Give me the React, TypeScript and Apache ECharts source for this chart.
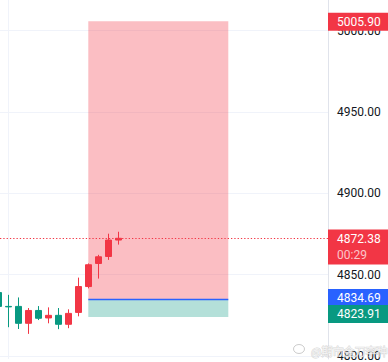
import React, { useEffect, useRef } from "react";
import * as echarts from "echarts";

// ---- data ----
const candleX = [0, 1, 2, 3, 4, 5, 6, 7, 8, 9, 10, 11, 12];
const opens = [4839.0, 4830.5, 4830.5, 4820.1, 4828.0, 4823.4, 4825.0, 4819.5, 4826.8, 4842.7, 4856.9, 4861.2, 4871.3];
const closes = [4830.5, 4830.2, 4820.1, 4828.0, 4823.2, 4825.0, 4819.5, 4826.2, 4842.7, 4856.1, 4861.0, 4871.3, 4872.38];
const lows = [4828.0, 4817.7, 4816.6, 4813.6, 4822.1, 4820.1, 4816.5, 4817.1, 4824.4, 4841.6, 4847.6, 4859.1, 4868.5];
const highs = [4841.0, 4837.6, 4836.0, 4829.5, 4830.7, 4829.9, 4829.5, 4828.7, 4848.2, 4856.9, 4862.2, 4875.2, 4876.4];

const yTicks = [4800, 4850, 4900, 4950, 5000];
const xGridLines = [1];

const lastPrice = 4872.38;
const countdown = "00:29";
const targetPrice = 5005.9;
const entryPrice = 4834.69;
const stopPrice = 4823.91;
const positionStart = 9;
const positionEnd = 23;

const yMin = 4798.2;
const yMax = 5018.9;
const xMin = 0.17;
const xMax = 32.97;

const watermark = "@期市金刀李种";

// ---- styles ----
const UP = "#f23645";
const DOWN = "#089981";
const BLUE = "#2962ff";
const FONT = 'Roboto, "Noto Sans", sans-serif';

function priceTag(value: number, color: string, offsetY: number) {
  return {
    yAxis: value,
    lineStyle: { color: "rgba(0,0,0,0)", width: 0, type: "solid" },
    label: {
      show: true,
      position: "end",
      distance: 0,
      formatter: value.toFixed(2),
      color: "#fff",
      backgroundColor: color,
      fontFamily: FONT,
      fontSize: 12,
      lineHeight: 14,
      padding: [2, 8, 2, 9],
      offset: [0, offsetY],
    },
  };
}

export default function App() {
  const ref = useRef<HTMLDivElement>(null);

  useEffect(() => {
    if (!ref.current) return;
    const chart = echarts.init(ref.current, undefined, { renderer: "svg" });

    const candleData = candleX.map((x, i) => [x, opens[i], closes[i], lows[i], highs[i]]);

    chart.setOption({
      animation: false,
      backgroundColor: "#ffffff",
      grid: { left: 0, right: 60, top: 0, bottom: 0, containLabel: false },
      xAxis: {
        type: "value",
        min: xMin,
        max: xMax,
        show: false,
        splitLine: { show: false },
      },
      yAxis: {
        type: "value",
        position: "right",
        min: yMin,
        max: yMax,
        minInterval: 50,
        maxInterval: 50,
        axisLine: { show: true, lineStyle: { color: "#e0e3eb", width: 1 } },
        axisTick: { show: false },
        splitLine: { show: false },
        axisLabel: {
          color: "#131722",
          fontFamily: FONT,
          fontSize: 12,
          margin: 9,
          formatter: (v: number) => (Math.abs(v % 50) < 1e-6 ? v.toFixed(2) : ""),
        },
      },
      graphic: [
        {
          type: "ellipse",
          shape: { cx: 299, cy: 349, rx: 5.5, ry: 4.5 },
          style: { fill: "rgba(255,255,255,0.6)", stroke: "rgba(170,170,170,0.6)", lineWidth: 1 },
          z: 100,
        },
        {
          type: "text",
          x: 311,
          y: 351,
          style: {
            text: watermark,
            fill: "rgba(255,255,255,0.75)",
            stroke: "rgba(180,180,180,0.55)",
            lineWidth: 1,
            font: '11px "Noto Sans CJK SC", sans-serif',
            verticalAlign: "middle",
          },
          z: 100,
        },
      ],
      series: [
        {
          type: "line",
          data: [],
          z: 0,
          silent: true,
          markLine: {
            z: 0,
            silent: true,
            symbol: ["none", "none"],
            label: { show: false },
            lineStyle: { color: "#f0f3fa", width: 1, type: "solid" },
            data: [
              ...yTicks.map((v) => ({ yAxis: v })),
              ...xGridLines.map((v) => ({ xAxis: v })),
            ],
          },
        },
        {
          type: "line",
          data: [],
          z: 1,
          silent: true,
          markArea: {
            z: 1,
            silent: true,
            data: [
              [
                { coord: [positionStart, targetPrice], itemStyle: { color: "rgba(242,54,69,0.32)", borderWidth: 0 } },
                { coord: [positionEnd, entryPrice] },
              ],
              [
                { coord: [positionStart, entryPrice], itemStyle: { color: "rgba(8,153,129,0.3)", borderWidth: 0 } },
                { coord: [positionEnd, stopPrice] },
              ],
            ],
          },
        },
        {
          type: "candlestick",
          z: 3,
          data: candleData,
          encode: { x: 0, y: [1, 2, 3, 4] },
          barWidth: 7,
          itemStyle: {
            color: UP,
            color0: DOWN,
            borderColor: UP,
            borderColor0: DOWN,
            borderWidth: 1,
          },
          markLine: {
            z: 5,
            silent: true,
            symbol: ["none", "none"],
            data: [
              [
                {
                  coord: [positionStart, entryPrice],
                  lineStyle: { color: BLUE, width: 1.4, type: "solid" },
                  label: { show: false },
                },
                { coord: [positionEnd, entryPrice] },
              ],
              {
                yAxis: lastPrice,
                lineStyle: { color: UP, width: 1, type: [1.3, 2] },
                label: {
                  show: true,
                  position: "end",
                  distance: 0,
                  formatter: `{a|${lastPrice.toFixed(2)}}\n{b|${countdown}}`,
                  backgroundColor: UP,
                  padding: [1, 8, 1, 9],
                  offset: [0, 8.7],
                  rich: {
                    a: { color: "#fff", fontFamily: FONT, fontSize: 12, lineHeight: 17 },
                    b: { color: "rgba(255,255,255,0.72)", fontFamily: FONT, fontSize: 12, lineHeight: 16 },
                  },
                },
              },
              priceTag(targetPrice, UP, 0.7),
              priceTag(entryPrice, BLUE, -1.5),
              priceTag(stopPrice, DOWN, -3.1),
            ],
          },
        },
      ],
    });

    return () => chart.dispose();
  }, []);

  return (
    <div
      ref={ref}
      style={{ position: "fixed", left: 0, top: 0, width: 388, height: 362, background: "#fff" }}
    />
  );
}
